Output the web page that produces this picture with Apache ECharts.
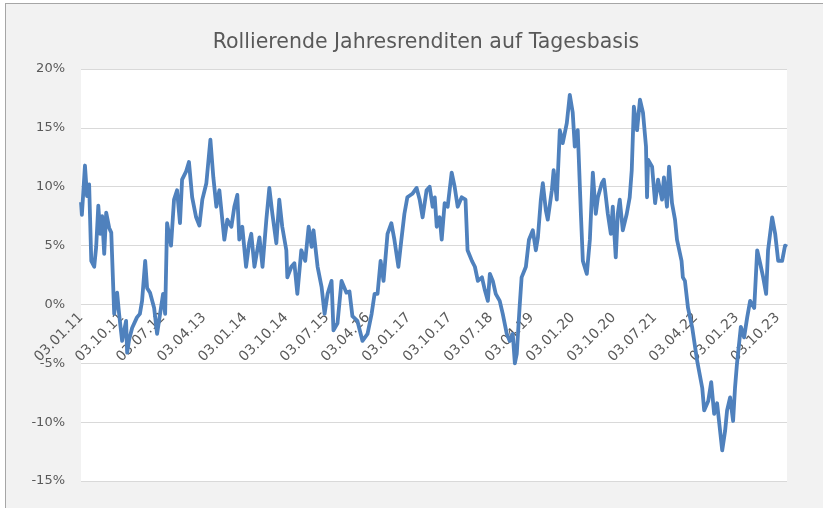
<!DOCTYPE html>
<html>
<head>
<meta charset="utf-8">
<title>Rollierende Jahresrenditen auf Tagesbasis</title>
<script src="https://cdn.jsdelivr.net/npm/echarts@6.0.0/dist/echarts.min.js"></script>
<style>
  html, body { margin: 0; padding: 0; background: #fff; overflow: hidden; }
  #frame { position: absolute; left: 5px; top: 3px; width: 840px; height: 530px; border: 1px solid #a6a6a6; background: #f2f2f2; }
  #chart { position: absolute; left: 0; top: 0; width: 823px; height: 508px; }
</style>
</head>
<body>
<div id="frame"></div>
<div id="chart"></div>
<script>
// Datum (Stichtag) und rollierende 1-Jahres-Rendite in %
var dates = [
  '2011-01-03', '2011-01-09', '2011-01-30', '2011-02-12', '2011-02-25', '2011-03-11', '2011-03-31', '2011-04-13',
  '2011-04-27', '2011-05-10', '2011-05-23', '2011-06-06', '2011-06-19', '2011-07-09', '2011-07-23', '2011-08-12',
  '2011-09-01', '2011-09-14', '2011-10-04', '2011-10-31', '2011-11-07', '2011-11-20', '2011-12-10', '2012-01-12',
  '2012-02-01', '2012-02-15', '2012-03-06', '2012-03-19', '2012-04-08', '2012-05-05', '2012-05-25', '2012-06-14',
  '2012-07-04', '2012-07-18', '2012-07-31', '2012-08-27', '2012-09-16', '2012-10-06', '2012-10-26', '2012-11-09',
  '2012-12-06', '2012-12-25', '2013-01-16', '2013-02-11', '2013-03-03', '2013-03-23', '2013-04-19', '2013-05-16',
  '2013-06-05', '2013-06-25', '2013-07-15', '2013-08-04', '2013-08-18', '2013-09-07', '2013-10-04', '2013-10-24',
  '2013-11-13', '2013-11-26', '2013-12-16', '2014-01-11', '2014-02-01', '2014-02-14', '2014-03-06', '2014-04-09',
  '2014-04-29', '2014-05-25', '2014-06-14', '2014-07-04', '2014-07-31', '2014-08-20', '2014-09-09', '2014-10-06',
  '2014-10-13', '2014-11-09', '2014-11-29', '2014-12-19', '2015-01-15', '2015-02-10', '2015-03-03', '2015-03-23',
  '2015-04-05', '2015-05-02', '2015-05-29', '2015-06-18', '2015-07-08', '2015-08-04', '2015-08-17', '2015-09-13',
  '2015-10-10', '2015-11-12', '2015-12-02', '2015-12-22', '2016-01-25', '2016-02-27', '2016-04-01', '2016-04-28',
  '2016-05-18', '2016-06-07', '2016-06-27', '2016-07-17', '2016-08-13', '2016-09-08', '2016-09-28', '2016-10-25',
  '2016-11-14', '2016-12-04', '2016-12-24', '2017-01-27', '2017-02-23', '2017-03-15', '2017-04-04', '2017-04-30',
  '2017-05-21', '2017-06-10', '2017-06-24', '2017-07-07', '2017-07-27', '2017-08-10', '2017-08-30', '2017-09-19',
  '2017-10-16', '2017-11-05', '2017-11-25', '2017-12-22', '2018-01-17', '2018-01-31', '2018-02-27', '2018-03-19',
  '2018-04-08', '2018-05-05', '2018-05-25', '2018-06-14', '2018-06-27', '2018-07-17', '2018-08-06', '2018-09-02',
  '2018-09-22', '2018-10-19', '2018-11-08', '2018-11-28', '2018-12-12', '2018-12-25', '2019-01-13', '2019-01-27',
  '2019-02-23', '2019-03-15', '2019-04-10', '2019-04-30', '2019-05-14', '2019-06-03', '2019-06-16', '2019-07-06',
  '2019-07-19', '2019-08-16', '2019-08-28', '2019-09-18', '2019-10-08', '2019-10-28', '2019-11-24', '2019-12-14',
  '2020-01-03', '2020-01-17', '2020-02-06', '2020-02-26', '2020-03-10', '2020-04-06', '2020-04-26', '2020-05-16',
  '2020-06-05', '2020-06-19', '2020-07-15', '2020-07-29', '2020-08-25', '2020-09-14', '2020-09-27', '2020-10-17',
  '2020-10-31', '2020-11-13', '2020-12-03', '2020-12-30', '2021-01-19', '2021-02-02', '2021-02-15', '2021-03-07',
  '2021-03-27', '2021-04-16', '2021-05-06', '2021-05-13', '2021-05-20', '2021-06-16', '2021-07-06', '2021-07-26',
  '2021-08-22', '2021-09-04', '2021-09-24', '2021-10-08', '2021-10-28', '2021-11-17', '2021-11-30', '2021-12-31',
  '2022-01-09', '2022-01-23', '2022-02-12', '2022-03-11', '2022-04-13', '2022-05-17', '2022-05-30', '2022-06-26',
  '2022-07-16', '2022-08-05', '2022-08-25', '2022-09-28', '2022-10-18', '2022-10-31', '2022-11-20', '2022-12-10',
  '2022-12-23', '2023-01-05', '2023-02-01', '2023-02-21', '2023-03-13', '2023-04-02', '2023-04-29', '2023-05-19',
  '2023-06-08', '2023-06-28', '2023-07-18', '2023-07-31', '2023-08-28', '2023-09-17', '2023-10-07', '2023-11-03',
  '2023-11-22', '2023-12-05'
]
var returns = [
  8.7, 7.6, 11.8, 9.2, 10.2, 3.7, 3.2, 4.9,
  8.4, 6.0, 7.5, 4.3, 7.8, 6.5, 6.1, -0.8,
  1.0, -0.8, -3.1, -1.4, -4.1, -3.0, -2.0, -1.1,
  -0.8, 0.3, 3.7, 1.4, 1.0, -0.3, -2.5, -0.8,
  0.9, -0.8, 6.9, 5.0, 8.9, 9.7, 6.9, 10.6,
  11.3, 12.1, 9.1, 7.4, 6.7, 8.9, 10.3, 14.0,
  10.8, 8.3, 9.7, 7.2, 5.5, 7.2, 6.6, 8.3,
  9.3, 5.5, 6.6, 3.2, 5.2, 6.0, 3.2, 5.7,
  3.2, 7.2, 9.9, 7.7, 5.2, 8.9, 6.6, 4.6,
  2.3, 3.2, 3.5, 0.9, 4.6, 3.7, 6.6, 4.9,
  6.3, 3.2, 1.5, -0.8, 0.9, 2.0, -2.2, -1.6,
  2.0, 1.0, 1.1, -1.0, -1.4, -3.1, -2.5, -0.8,
  0.9, 0.9, 3.7, 2.0, 6.0, 6.9, 5.5, 3.2,
  5.5, 7.7, 9.1, 9.4, 9.9, 8.9, 7.4, 9.7,
  10.0, 8.3, 9.1, 6.6, 7.4, 5.5, 8.6, 8.3,
  11.2, 10.0, 8.3, 9.1, 8.9, 4.6, 3.7, 3.2,
  2.0, 2.3, 1.2, 0.3, 2.6, 2.0, 0.9, 0.3,
  -0.8, -2.5, -3.1, -2.5, -5.0, -4.2, -0.3, 2.3,
  3.2, 5.5, 6.3, 4.6, 5.7, 8.9, 10.3, 8.0,
  7.2, 9.7, 11.4, 8.9, 14.8, 13.7, 15.4, 17.8,
  16.3, 13.4, 14.8, 7.7, 3.7, 2.6, 5.5, 11.2,
  7.7, 9.1, 10.3, 10.6, 7.7, 6.0, 8.3, 4.0,
  7.7, 8.9, 6.3, 7.7, 9.1, 11.4, 16.8, 14.8,
  17.4, 16.3, 13.4, 9.1, 12.3, 11.7, 8.6, 10.6,
  8.9, 10.8, 8.3, 11.7, 8.6, 7.2, 5.5, 3.7,
  2.3, 2.0, -0.3, -2.0, -4.8, -7.1, -9.0, -8.2,
  -6.6, -9.3, -8.4, -12.4, -10.7, -9.0, -7.9, -9.9,
  -7.1, -5.1, -1.9, -2.8, -1.1, 0.3, -0.3, 4.6,
  3.5, 2.3, 0.9, 4.6, 7.4, 6.0, 3.7, 3.7,
  5.0, 4.9
]
var yTicks = { min: -15, max: 20, step: 5 }
var labelStepMonths = 9 // Achsenbeschriftung alle 9 Monate ab 03.01.11

// Monate seit dem 03.01.2011 (Bruchteil)
function toMonths(s) {
  var p = s.split('-')
  var y = +p[0], m = +p[1], d = +p[2]
  var dim = new Date(y, m, 0).getDate()
  return (y - 2011) * 12 + (m - 1) + (d - 3) / dim
}
function pad(n) { return n < 10 ? '0' + n : '' + n }

var seriesData = []
for (var i = 0; i < dates.length; i++) {
  seriesData.push([toMonths(dates[i]), returns[i]])
}

var gridTop = 69
var gridBottom = 27
var plotHeight = 508 - gridTop - gridBottom
// Beschriftung der Zeitachse liegt auf der 0%-Linie (wie in Excel)
var zeroOffset = -plotHeight * (0 - yTicks.min) / (yTicks.max - yTicks.min)

var chart = echarts.init(document.getElementById('chart'))
chart.setOption({
  animation: false,
  textStyle: { fontFamily: 'DejaVu Sans' },
  title: {
    text: 'Rollierende Jahresrenditen auf Tagesbasis',
    left: 421,
    top: 27,
    textAlign: 'center',
    textStyle: { color: '#595959', fontSize: 20.5, fontWeight: 'normal', fontFamily: 'DejaVu Sans' }
  },
  grid: {
    left: 81,
    right: 36,
    top: gridTop,
    bottom: gridBottom,
    outerBoundsMode: 'none',
    containLabel: false,
    show: true,
    backgroundColor: '#ffffff',
    borderWidth: 0
  },
  xAxis: {
    type: 'value',
    position: 'bottom',
    offset: zeroOffset,
    min: 0,
    max: seriesData[seriesData.length - 1][0],
    interval: labelStepMonths,
    axisLine: { show: false, onZero: false },
    axisTick: { show: false },
    splitLine: { show: false },
    axisLabel: {
      rotate: 45,
      margin: 11,
      color: '#595959',
      fontSize: 14,
      showMaxLabel: false,
      formatter: function (v) {
        var k = Math.round(v)
        if (Math.abs(v - k) > 1e-6 || k % labelStepMonths !== 0) return ''
        return '03.' + pad(k % 12 + 1) + '.' + (11 + Math.floor(k / 12))
      }
    }
  },
  yAxis: {
    type: 'value',
    min: yTicks.min,
    max: yTicks.max,
    interval: yTicks.step,
    axisLine: { show: false, onZero: false },
    axisTick: { show: false },
    splitLine: { lineStyle: { color: '#d9d9d9', width: 1 } },
    axisLabel: {
      margin: 16,
      color: '#595959',
      fontSize: 13,
      formatter: '{value}%'
    }
  },
  series: [{
    type: 'line',
    data: seriesData,
    showSymbol: false,
    lineStyle: { color: '#4f81bd', width: 3.8, join: 'round' },
    z: 3
  }]
})
</script>
</body>
</html>
